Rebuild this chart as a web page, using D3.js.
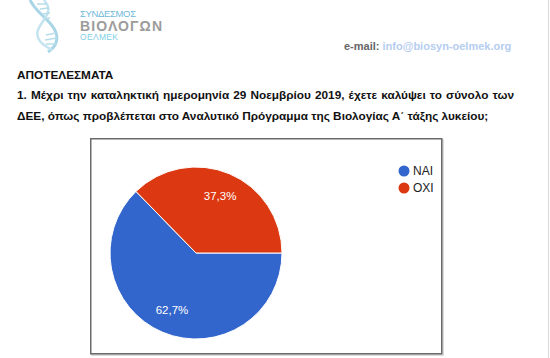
<!DOCTYPE html>
<html><head><meta charset="utf-8">
<script src="https://cdn.jsdelivr.net/npm/d3@7"></script>
<style>html,body{margin:0;padding:0;background:#fff;overflow:hidden}svg{display:block}</style>
</head><body>
<script>
const categories = ["ΝΑΙ", "ΟΧΙ"];
const values = [62.7, 37.3];
const valueLabels = ["62,7%", "37,3%"];
const colors = ["#3366cc", "#dc3912"];
const headingText = "ΑΠΟΤΕΛΕΣΜΑΤΑ";
const questionLines = [
  "1. Μέχρι την καταληκτική ημερομηνία 29 Νοεμβρίου 2019, έχετε καλύψει το σύνολο των",
  "ΔΕΕ, όπως προβλέπεται στο Αναλυτικό Πρόγραμμα της Βιολογίας Α΄ τάξης λυκείου;"
];

const W = 550, H = 358;
const svg = d3.select("body").append("svg").attr("width", W).attr("height", H);
svg.append("rect").attr("width", W).attr("height", H).attr("fill", "#fff");
// page edge line
svg.append("line").attr("x1", 548.5).attr("x2", 548.5).attr("y1", 0).attr("y2", H).attr("stroke", "#d8d8d8");

// Logo (decorative DNA)
const logo = svg.append("g");
const helixA = d3.line().curve(d3.curveBasis)([[30,0],[36,10],[50,22],[58,34],[56,46],[48,52]]);
const helixB = d3.line().curve(d3.curveBasis)([[44,0],[50,8],[46,18],[36,30],[38,42],[52,50]]);
logo.append("path").attr("d", helixA).attr("fill", "none").attr("stroke", "#a9d6e6").attr("stroke-width", 3);
logo.append("path").attr("d", helixB).attr("fill", "none").attr("stroke", "#c4e4ef").attr("stroke-width", 2.5);
[[37,4,47,4],[40,9,49,8],[42,14,50,13],[44,19,50,18],[46,35,56,33],[45,40,57,38],[46,44,56,44]].forEach(r=>{
  logo.append("line").attr("x1",r[0]).attr("y1",r[1]).attr("x2",r[2]).attr("y2",r[3]).attr("stroke","#b8dde9").attr("stroke-width",1.5);
});
logo.append("text").attr("x", 80).attr("y", 17).text("ΣΥΝΔΕΣΜΟΣ")
  .attr("font-family", "Liberation Sans, Arial, sans-serif").attr("font-size", 9.5).attr("fill", "#6fb9d9").attr("textLength", 56);
logo.append("text").attr("x", 80).attr("y", 30.5).text("ΒΙΟΛΟΓΩΝ")
  .attr("font-family", "Liberation Sans, Arial, sans-serif").attr("font-weight", "bold").attr("font-size", 14).attr("fill", "#9c9c9c").attr("textLength", 82);
logo.append("text").attr("x", 80).attr("y", 40).text("ΟΕΛΜΕΚ")
  .attr("font-family", "Liberation Sans, Arial, sans-serif").attr("font-size", 8.5).attr("fill", "#7fd0e6").attr("textLength", 38);

// e-mail
const em = svg.append("text").attr("x", 344).attr("y", 50)
  .attr("font-family", "Liberation Sans, Arial, sans-serif").attr("font-size", 11).attr("font-weight", "bold");
em.append("tspan").attr("fill", "#666").text("e-mail: ");
em.append("tspan").attr("fill", "#b5cdf0").text("info@biosyn-oelmek.org");

// heading & question
const font = "Liberation Sans, Arial, sans-serif";
const fs = 11.8;
svg.append("text").attr("x", 17).attr("y", 79).text(headingText)
  .attr("font-family", font).attr("font-weight", "bold").attr("font-size", fs).attr("fill", "#111");
const q1 = svg.append("text").attr("x", 17).attr("y", 99).text(questionLines[0])
  .attr("font-family", font).attr("font-weight", "bold").attr("font-size", fs).attr("fill", "#111");
// justify first line
const target = 514 - 17;
const nat = q1.node().getComputedTextLength();
const spaces = questionLines[0].split(" ").length - 1;
q1.attr("word-spacing", Math.max(0, (target - nat) / spaces));
svg.append("text").attr("x", 17).attr("y", 120).text(questionLines[1])
  .attr("font-family", font).attr("font-weight", "bold").attr("font-size", fs).attr("fill", "#111");

// chart frame
svg.append("rect").attr("x", 92).attr("y", 140).attr("width", 351).attr("height", 215)
  .attr("fill", "none").attr("stroke", "#cfcfcf").attr("stroke-width", 1.5);
svg.append("rect").attr("x", 90.75).attr("y", 138.75).attr("width", 351).attr("height", 215)
  .attr("fill", "#fff").attr("stroke", "#6a6a6a").attr("stroke-width", 1.5);

// pie
const cx = 196, cy = 253, R = 86;
const data = categories.map((c, i) => ({cat: c, value: values[i], label: valueLabels[i], color: colors[i]}));
const pie = d3.pie().value(d => d.value).sort(null).startAngle(Math.PI / 2).endAngle(Math.PI / 2 + 2 * Math.PI);
const arc = d3.arc().innerRadius(0).outerRadius(R);
const labelArc = d3.arc().innerRadius(0.72 * R).outerRadius(0.72 * R);
const g = svg.append("g").attr("transform", `translate(${cx},${cy})`);
const arcs = pie(data);
g.selectAll("path").data(arcs).join("path")
  .attr("d", arc).attr("fill", d => d.data.color).attr("stroke", "#fff").attr("stroke-width", 1);
g.selectAll("text").data(arcs).join("text")
  .attr("transform", d => `translate(${labelArc.centroid(d)})`)
  .attr("text-anchor", "middle").attr("dy", "0.35em")
  .attr("font-family", "Liberation Sans, Arial, sans-serif").attr("font-size", 11.5).attr("fill", "#fff")
  .text(d => d.data.label);

// legend
const lg = svg.append("g");
categories.forEach((c, i) => {
  const y = 171 + i * 17;
  lg.append("circle").attr("cx", 404).attr("cy", y).attr("r", 5.5).attr("fill", colors[i]);
  lg.append("text").attr("x", 413).attr("y", y).attr("dy", "0.36em").text(c)
    .attr("font-family", "Liberation Sans, Arial, sans-serif").attr("font-size", 12).attr("fill", "#222");
});
</script>
</body></html>
